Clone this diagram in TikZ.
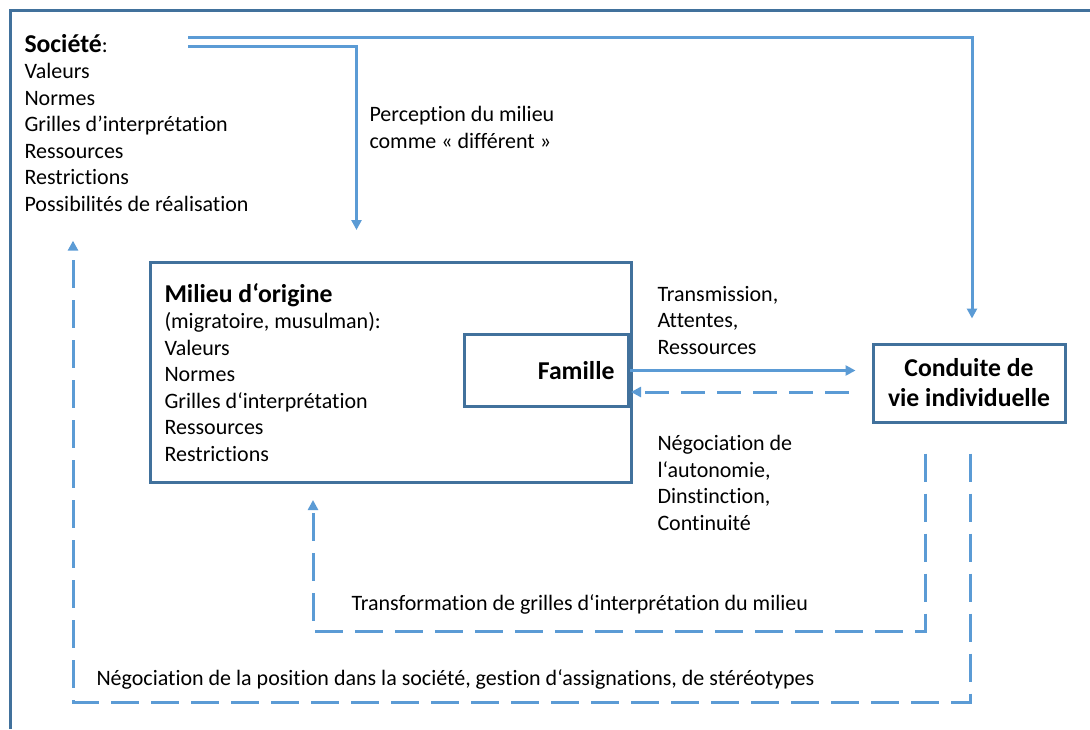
\documentclass[tikz,border=0pt]{standalone}
\usepackage{fontspec}
\setmainfont{Carlito}[Ligatures={NoCommon}]
\usepackage{xcolor}
\usetikzlibrary{arrows.meta,positioning,calc}
\definecolor{boxblue}{HTML}{41719C}
\definecolor{flowblue}{HTML}{5B9BD5}
\newcommand{\hd}{\fontsize{25.7}{30}\selectfont\bfseries}
\frenchspacing

\begin{document}
\begin{tikzpicture}[x=1pt, y=-1pt, line width=3pt,main node/.style={rectangle,draw=boxblue,line width=3pt},txt/.style={font=\fontsize{22}{26.5}\selectfont,align=flush left,inner sep=0pt}]%
\useasboundingbox (0,0) rectangle (1090,729);
\draw[boxblue] (10,729) -- (10,10) -- (1090,10);
\begin{scope}[every node/.style={txt}]
\node[anchor=base west] (societe) at (23,211) {{\hd Société}:\\Valeurs\\Normes\\Grilles d’interprétation\\Ressources\\Restrictions\\Possibilités de réalisation};
\node[main node, text width=453pt, inner xsep=14pt, minimum height=220pt, anchor=north west] (milieu) at (149,261) {{\hd Milieu d‘origine}\\(migratoire, musulman):\\Valeurs\\Normes\\Grilles d‘interprétation\\Ressources\\Restrictions};
\node[main node, font=\hd, text width=136pt, align=flush right, inner xsep=14pt, minimum height=72pt, anchor=east] (famille) at (630,370.5) {Famille};
\node[main node, font=\hd, align=center, inner sep=4pt, minimum width=192pt, minimum height=78pt] (conduite) at (969,383) {Conduite de\\vie individuelle};
\node[anchor=base west] (perception) at (368,148) {Perception du milieu\\comme « différent »};
\node[anchor=base west] (transmission) at (656,354) {Transmission,\\Attentes,\\Ressources};
\node[anchor=base west] (autonomie) at (656,530) {Négociation de\\l‘autonomie,\\Dinstinction,\\Continuité};
\node[anchor=base west] (transfo) at (350,610) {Transformation de grilles d‘interprétation du milieu};
\node[anchor=base west] (position) at (95,685) {Négociation de la position dans la société, gestion d‘assignations, de stéréotypes};
\end{scope}
\coordinate (s1) at (188,37);
\coordinate (s2) at (188,46);
\begin{scope}[every path/.style={draw=flowblue,line width=3pt,-{Triangle[width=10pt,length=10pt]}}]
\draw[shorten >=24pt] (s1) -| ([xshift=3pt]conduite.north);
\draw[shorten >=31pt] (s2) -| ([xshift=-34.5pt]milieu.north);
\draw[shorten >=16pt] (famille.east) -- (conduite.west |- famille.east);
%\draw[dashed] ...
\draw[dash pattern=on 24pt off 12pt, shorten <=23pt, shorten >=1pt] (conduite.west |- 0,392) -- (famille.east |- 0,392);
\draw[dash pattern=on 28pt off 12pt, shorten <=30pt, shorten >=16pt] (conduite.south -| 925,0) |- (313,631) -- (milieu.south -| 313,0);
\draw[dash pattern=on 28pt off 12pt, shorten <=30pt, shorten >=28pt] (conduite.south -| 970,0) |- (73,702) -- (societe.south -| 73,0);
\end{scope}
\end{tikzpicture}
\end{document}
